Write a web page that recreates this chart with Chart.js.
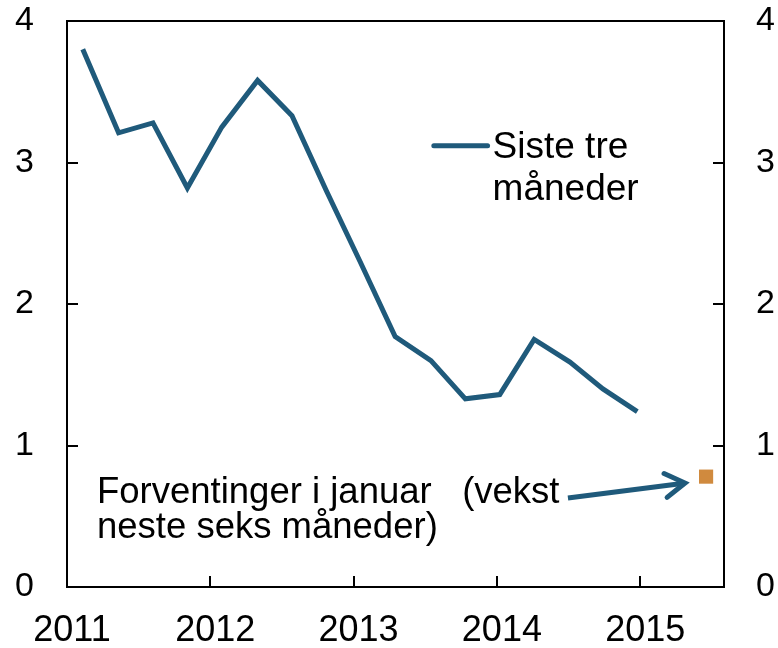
<!DOCTYPE html>
<html>
<head>
<meta charset="utf-8">
<script src="https://cdn.jsdelivr.net/npm/chart.js@4.4.1/dist/chart.umd.min.js"></script>
<style>
html,body{margin:0;padding:0;background:#fff;}
#wrap{width:778px;height:648px;}
</style>
</head>
<body>
<div id="wrap"><canvas id="c" width="778" height="648"></canvas></div>
<script>
// ---- data ----
const surveyDates = [2011.11, 2011.36, 2011.60, 2011.84, 2012.08, 2012.33, 2012.57, 2012.81, 2013.05,
                     2013.29, 2013.54, 2013.78, 2014.02, 2014.26, 2014.51, 2014.74, 2014.98];
const lastThreeMonths = [3.80, 3.21, 3.28, 2.82, 3.25, 3.58, 3.33, 2.80, 2.29,
                         1.77, 1.60, 1.33, 1.36, 1.75, 1.59, 1.40, 1.24];
const expectationDates = [2015.46];
const expectationValues = [0.78];
const yTickValues = [0, 1, 2, 3, 4];
const xTickYears = [2011, 2012, 2013, 2014, 2015];
const seriesLabel = ['Siste tre', 'måneder'];
const noteLines = ['Forventinger i januar   (vekst', 'neste seks måneder)'];

const BLUE = '#1F5A7B';
const ORANGE = '#D08A3E';
const FONT = '"Liberation Sans", Arial, sans-serif';

const linePoints = surveyDates.map((d, i) => ({x: d, y: lastThreeMonths[i]}));
const expPoints = expectationDates.map((d, i) => ({x: d, y: expectationValues[i]}));

const decorPlugin = {
  id: 'decor',
  afterDraw(chart) {
    const ctx = chart.ctx;
    const a = chart.chartArea;
    const xs = chart.scales.x, ys = chart.scales.y;
    const px = v => xs.getPixelForValue(v);
    const py = v => ys.getPixelForValue(v);
    ctx.save();
    // frame
    ctx.strokeStyle = '#000';
    ctx.lineWidth = 2;
    ctx.beginPath();
    ctx.rect(a.left, a.top, a.right - a.left, a.bottom - a.top);
    ctx.stroke();
    // inward ticks
    ctx.beginPath();
    yTickValues.forEach(v => {
      if (v === 0 || v === 4) return;
      const y = Math.round(py(v));
      ctx.moveTo(a.left, y); ctx.lineTo(a.left + 11, y);
      ctx.moveTo(a.right, y); ctx.lineTo(a.right - 11, y);
    });
    xTickYears.forEach(v => {
      if (v === 2011) return;
      const x = Math.round(px(v));
      ctx.moveTo(x, a.bottom); ctx.lineTo(x, a.bottom - 11);
    });
    ctx.stroke();

    // legend
    ctx.strokeStyle = BLUE;
    ctx.lineWidth = 5;
    ctx.lineCap = 'round';
    ctx.beginPath();
    ctx.moveTo(px(2013.56), py(3.119));
    ctx.lineTo(px(2013.935), py(3.119));
    ctx.stroke();
    ctx.fillStyle = '#000';
    ctx.font = '37px ' + FONT;
    ctx.textBaseline = 'alphabetic';
    ctx.textAlign = 'left';
    ctx.fillText(seriesLabel[0], px(2013.97), py(3.032));
    ctx.fillText(seriesLabel[1], px(2013.97), py(2.735));

    // note
    ctx.font = '36.5px ' + FONT;
    ctx.fillText(noteLines[0], px(2011.209), py(0.596));
    ctx.fillText(noteLines[1], px(2011.209), py(0.346));

    // arrow
    const x0 = px(2014.496), y0 = py(0.629), x1 = px(2015.313), y1 = py(0.735);
    ctx.strokeStyle = BLUE;
    ctx.lineWidth = 5;
    ctx.lineCap = 'butt';
    ctx.beginPath();
    ctx.moveTo(x0, y0); ctx.lineTo(x1 - 3, y1 + 0.4);
    ctx.stroke();
    const ang = Math.atan2(y1 - y0, x1 - x0);
    const hl = 23, ha = 0.55;
    ctx.lineJoin = 'miter';
    ctx.lineCap = 'round';
    ctx.beginPath();
    ctx.moveTo(x1 - hl * Math.cos(ang - ha), y1 - hl * Math.sin(ang - ha));
    ctx.lineTo(x1, y1);
    ctx.lineTo(x1 - hl * Math.cos(ang + ha), y1 - hl * Math.sin(ang + ha));
    ctx.stroke();
    ctx.restore();
  }
};

function fitV(width) {
  return s => { s.width = width; s.paddingTop = 0; s.paddingBottom = 0; };
}

new Chart(document.getElementById('c'), {
  type: 'scatter',
  data: {
    datasets: [
      {
        label: 'Siste tre måneder',
        data: linePoints,
        showLine: true,
        borderColor: BLUE,
        backgroundColor: BLUE,
        borderWidth: 5,
        pointRadius: 0,
        tension: 0,
        borderJoinStyle: 'miter',
        borderCapStyle: 'butt',
        yAxisID: 'y'
      },
      {
        label: 'Forventinger i januar',
        data: expPoints,
        showLine: false,
        pointStyle: 'rect',
        pointRadius: 10,
        pointBorderWidth: 0,
        borderWidth: 0,
        backgroundColor: ORANGE,
        borderColor: ORANGE,
        yAxisID: 'y'
      }
    ]
  },
  options: {
    responsive: false,
    animation: false,
    events: [],
    layout: {padding: {top: 21, left: 0, right: 0, bottom: 0}},
    plugins: {legend: {display: false}, tooltip: {enabled: false}},
    scales: {
      x: {
        type: 'linear',
        min: 2011,
        max: 2015.585,
        afterBuildTicks: s => { s.ticks = xTickYears.map(v => ({value: v})); },
        afterFit: s => { s.height = 61; s.paddingLeft = 0; s.paddingRight = 0; },
        grid: {display: false, drawTicks: false},
        border: {display: false},
        ticks: {
          color: '#000',
          font: {family: FONT, size: 36},
          padding: 22,
          labelOffset: 5,
          maxRotation: 0,
          autoSkip: false,
          callback: v => String(v)
        }
      },
      y: {
        position: 'left',
        min: 0, max: 4,
        afterBuildTicks: s => { s.ticks = yTickValues.map(v => ({value: v})); },
        afterFit: fitV(67),
        grid: {display: false, drawTicks: false},
        border: {display: false},
        ticks: {color: '#000', font: {family: FONT, size: 34}, padding: 33, callback: v => String(v)}
      },
      y2: {
        position: 'right',
        min: 0, max: 4,
        afterBuildTicks: s => { s.ticks = yTickValues.map(v => ({value: v})); },
        afterFit: fitV(54),
        grid: {display: false, drawTicks: false},
        border: {display: false},
        ticks: {color: '#000', font: {family: FONT, size: 34}, padding: 32, callback: v => String(v)}
      }
    }
  },
  plugins: [decorPlugin]
});
</script>
</body>
</html>
